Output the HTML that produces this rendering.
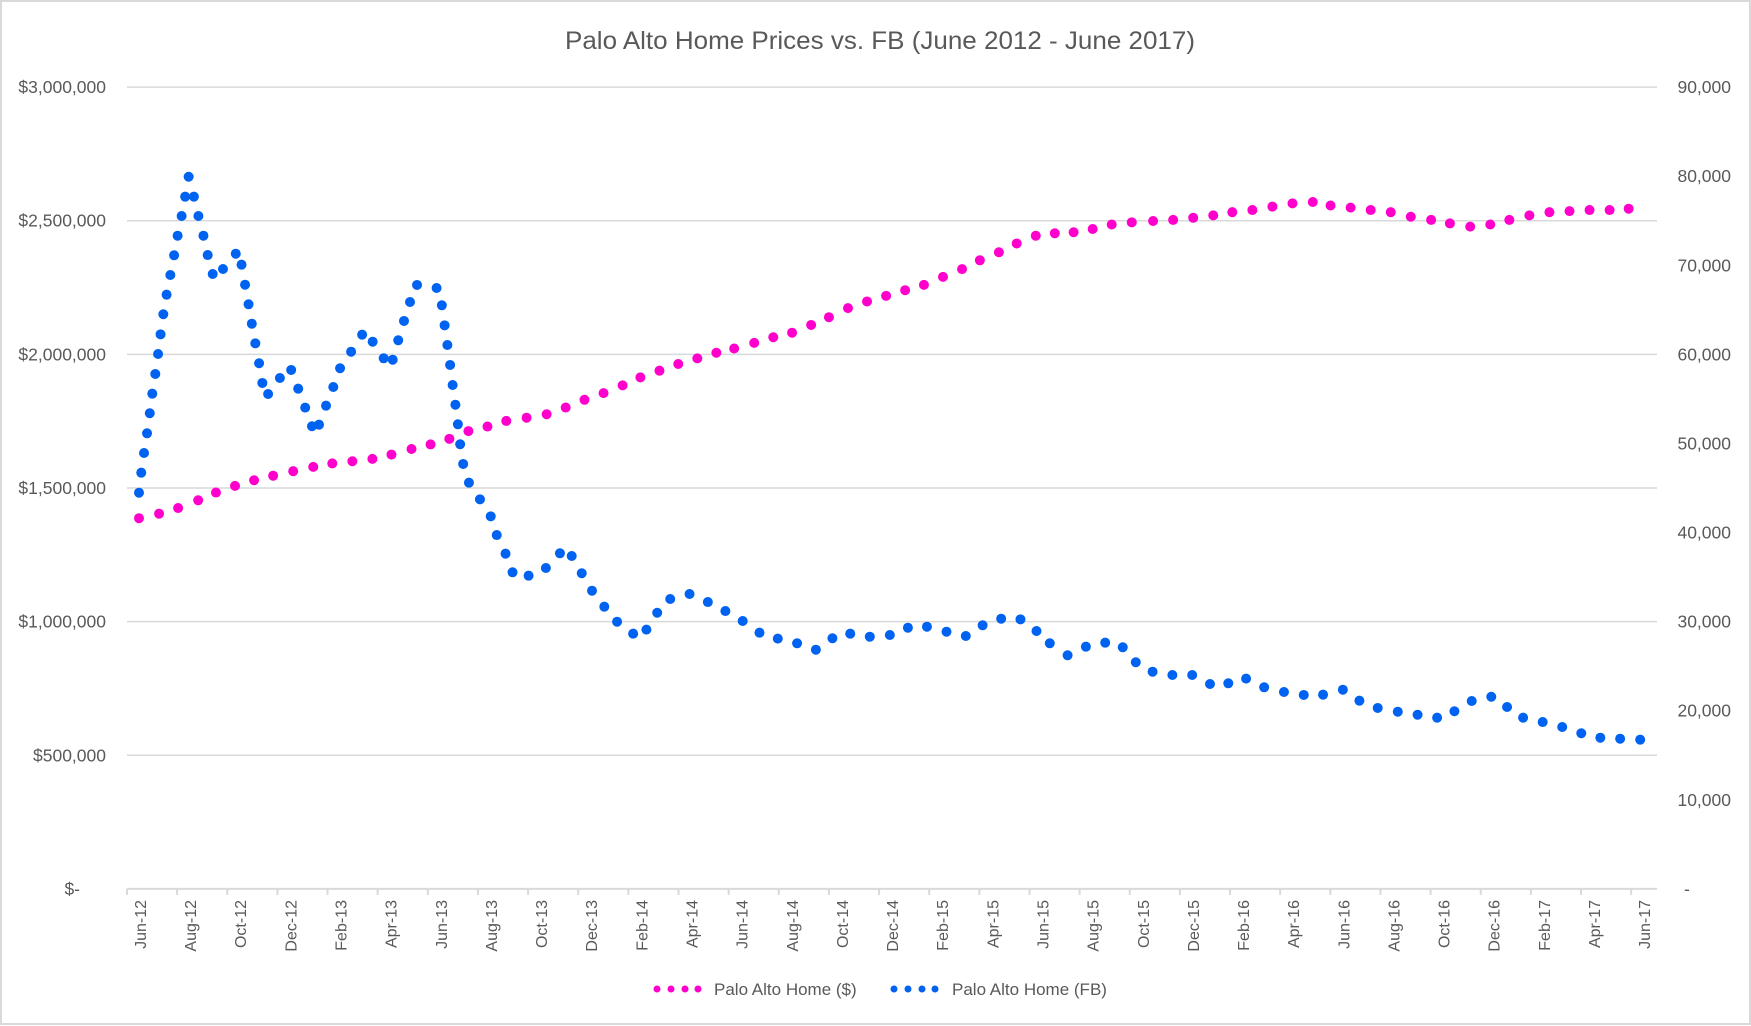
<!DOCTYPE html>
<html><head><meta charset="utf-8"><title>Palo Alto Home Prices vs. FB</title>
<style>
html,body{margin:0;padding:0;background:#fff;}
svg{display:block;font-family:"Liberation Sans",sans-serif;}
</style></head>
<body>
<svg id="chart" width="1751" height="1026" viewBox="0 0 1751 1026" xmlns="http://www.w3.org/2000/svg">
<rect x="1" y="1" width="1749" height="1023" fill="#fff" stroke="#d9d9d9" stroke-width="2"/>
<text x="880" y="49" text-anchor="middle" font-size="25" fill="#595959" textLength="630" lengthAdjust="spacingAndGlyphs">Palo Alto Home Prices vs. FB (June 2012 - June 2017)</text>
<g id="grid"></g>
<g id="xaxis"></g>
<g id="yleft"></g>
<g id="yright"></g>
<g id="homeSeries"></g>
<g id="fbSeries"></g>
<g>
  <g>
    <circle cx="657" cy="989" r="3.5" fill="#ff00cc"/><circle cx="671" cy="989" r="3.5" fill="#ff00cc"/><circle cx="685" cy="989" r="3.5" fill="#ff00cc"/><circle cx="698" cy="989" r="3.5" fill="#ff00cc"/>
    <text x="714" y="995" font-size="17" fill="#595959">Palo Alto Home ($)</text>
  </g>
  <g>
    <circle cx="894" cy="989" r="3.5" fill="#0062f0"/><circle cx="908" cy="989" r="3.5" fill="#0062f0"/><circle cx="922" cy="989" r="3.5" fill="#0062f0"/><circle cx="935" cy="989" r="3.5" fill="#0062f0"/>
    <text x="952" y="995" font-size="17" fill="#595959">Palo Alto Home (FB)</text>
  </g>
</g>
</svg>
<script>
const xTickLabels = ["Jun-12","Aug-12","Oct-12","Dec-12","Feb-13","Apr-13","Jun-13","Aug-13","Oct-13","Dec-13","Feb-14","Apr-14","Jun-14","Aug-14","Oct-14","Dec-14","Feb-15","Apr-15","Jun-15","Aug-15","Oct-15","Dec-15","Feb-16","Apr-16","Jun-16","Aug-16","Oct-16","Dec-16","Feb-17","Apr-17","Jun-17"];
const leftTicks = [0,500000,1000000,1500000,2000000,2500000,3000000];
const leftTickLabels = ["$-","$500,000","$1,000,000","$1,500,000","$2,000,000","$2,500,000","$3,000,000"];
const rightTicks = [0,10000,20000,30000,40000,50000,60000,70000,80000,90000];
const rightTickLabels = ["-","10,000","20,000","30,000","40,000","50,000","60,000","70,000","80,000","90,000"];

const homeMonths = [0,0.80,1.56,2.36,3.07,3.83,4.59,5.35,6.15,6.95,7.71,8.51,9.31,10.07,10.87,11.63,12.38,13.14,13.90,14.65,15.46,16.26,17.02,17.77,18.53,19.29,20.00,20.76,21.51,22.27,23.03,23.74,24.54,25.30,26.05,26.81,27.52,28.28,29.04,29.80,30.56,31.31,32.07,32.83,33.54,34.30,35.01,35.77,36.53,37.28,38.04,38.80,39.60,40.45,41.25,42.05,42.85,43.61,44.41,45.21,46.01,46.82,47.53,48.33,49.13,49.93,50.73,51.54,52.29,53.10,53.90,54.66,55.46,56.26,57.06,57.86,58.66,59.42];
const homeValues = [1387000,1404000,1425000,1454000,1483000,1508000,1529000,1546000,1563000,1579000,1592000,1600000,1609000,1625000,1646000,1663000,1684000,1713000,1730000,1751000,1763000,1776000,1801000,1830000,1855000,1884000,1914000,1939000,1964000,1985000,2006000,2022000,2043000,2064000,2081000,2110000,2139000,2173000,2198000,2219000,2240000,2260000,2290000,2319000,2352000,2382000,2415000,2444000,2453000,2457000,2469000,2486000,2494000,2499000,2503000,2511000,2520000,2532000,2540000,2553000,2565000,2570000,2557000,2549000,2540000,2532000,2515000,2503000,2490000,2478000,2486000,2503000,2520000,2532000,2536000,2540000,2540000,2545000];

const fbMonths = [0,0.09,0.20,0.32,0.43,0.53,0.65,0.76,0.86,0.97,1.10,1.25,1.40,1.54,1.70,1.84,1.98,2.19,2.37,2.57,2.74,2.94,3.35,3.86,4.09,4.23,4.37,4.50,4.64,4.79,4.92,5.15,5.62,6.07,6.35,6.63,6.90,7.18,7.46,7.75,8.02,8.46,8.90,9.32,9.76,10.12,10.34,10.57,10.81,11.09,11.87,12.08,12.19,12.30,12.41,12.51,12.62,12.72,12.81,12.93,13.16,13.60,14.03,14.27,14.62,14.90,15.54,16.23,16.79,17.26,17.66,18.07,18.56,19.07,19.71,20.24,20.67,21.19,21.96,22.69,23.39,24.08,24.75,25.48,26.25,27.00,27.66,28.37,29.15,29.95,30.67,31.43,32.21,32.98,33.65,34.39,35.16,35.80,36.33,37.04,37.77,38.54,39.24,39.76,40.43,41.22,42.01,42.72,43.45,44.16,44.88,45.67,46.46,47.23,48.02,48.68,49.41,50.21,51.00,51.78,52.47,53.16,53.94,54.57,55.21,55.99,56.77,57.53,58.29,59.08,59.88];
const fbValues = [44470,46720,48930,51140,53390,55590,57800,60040,62250,64500,66700,68910,71120,73320,75530,77700,79940,77700,75530,73320,71150,69020,69580,71300,70070,67820,65620,63440,61240,59000,56790,55550,57350,58250,56150,54020,51930,52110,54240,56340,58440,60300,62210,61420,59560,59400,61580,63750,65880,67790,67450,65510,63260,61050,58810,56560,54350,52150,49910,47700,45600,43730,41820,39720,37630,35540,35160,36020,37670,37370,35430,33470,31680,29990,28650,29100,31000,32540,33100,32200,31190,30070,28760,28090,27570,26850,28130,28650,28310,28500,29320,29430,28870,28390,29590,30330,30260,28950,27570,26220,27190,27640,27120,25440,24380,24010,24010,23000,23080,23600,22630,22100,21770,21800,22360,21130,20310,19890,19550,19220,19940,21090,21570,20420,19220,18730,18170,17470,16970,16860,16750];

const NS = "http://www.w3.org/2000/svg";
const plotLeft = 127, plotRight = 1657, plotTop = 87.1, plotBottom = 888.9;
const leftMax = 3000000, rightMax = 90000;
function xScale(m){ return 139 + m * 25.07; }
function yLeft(v){ return plotBottom - v / leftMax * (plotBottom - plotTop); }
function yRight(v){ return plotBottom - v / rightMax * (plotBottom - plotTop); }
function mk(tag, attrs, parent){ const e = document.createElementNS(NS, tag); for (const k in attrs) e.setAttribute(k, attrs[k]); parent.appendChild(e); return e; }

const grid = document.getElementById('grid');
leftTicks.forEach((t, i) => {
  if (t === 0) return;
  const y = yLeft(t);
  const l = mk('line', {x1: plotLeft, x2: plotRight, y1: y, y2: y, stroke: '#d9d9d9', 'stroke-width': 1.5}, grid);
  
  
});

const yl = document.getElementById('yleft');
leftTicks.forEach((t, i) => {
  const tx = mk('text', {x: 106, y: yLeft(t) + 6, 'text-anchor': 'end', 'font-size': 17.5, fill: '#595959'}, yl);
  tx.textContent = leftTickLabels[i];
  
  
});
if (yl.lastChild) {}
yl.firstChild.setAttribute('x', 80);

const yr = document.getElementById('yright');
rightTicks.forEach((t, i) => {
  const tx = mk('text', {x: t === 0 ? 1684 : 1731, y: yRight(t) + 6, 'text-anchor': t === 0 ? 'start' : 'end', 'font-size': 17.5, fill: '#595959'}, yr);
  tx.textContent = rightTickLabels[i];
  
  
});

const xa = document.getElementById('xaxis');
const axisLine = mk('line', {x1: plotLeft, x2: plotRight, y1: plotBottom, y2: plotBottom, stroke: '#d9d9d9', 'stroke-width': 2}, xa);


xTickLabels.forEach((lab, k) => {
  const tx0 = xScale(2 * k - 0.48);
  const tk = mk('line', {x1: tx0, x2: tx0, y1: plotBottom, y2: plotBottom + 6, stroke: '#d9d9d9', 'stroke-width': 2}, xa);
  
  
  const lx = tx0 + 19, ly = 900;
  const tx = mk('text', {x: lx, y: ly, 'text-anchor': 'end', 'font-size': 16, fill: '#595959', transform: `rotate(-90 ${lx} ${ly})`}, xa);
  tx.setAttribute('dy', 0);
  tx.textContent = lab;
  
  
});

const hs = document.getElementById('homeSeries');
homeMonths.forEach((m, i) => {
  const c = mk('circle', {cx: xScale(m), cy: yLeft(homeValues[i]), r: 5, fill: '#ff00cc'}, hs);
  
  
});
const fs = document.getElementById('fbSeries');
fbMonths.forEach((m, i) => {
  const c = mk('circle', {cx: xScale(m), cy: yRight(fbValues[i]), r: 5, fill: '#0062f0'}, fs);
  
  
});
</script>
</body></html>
